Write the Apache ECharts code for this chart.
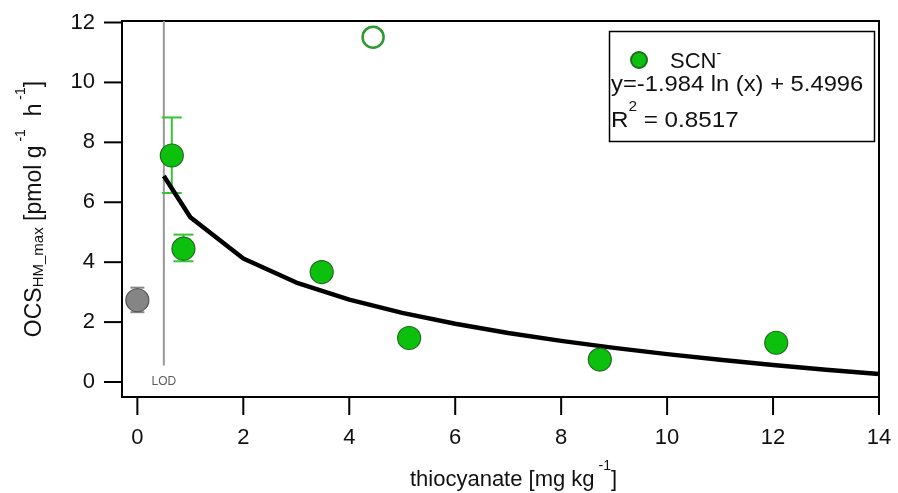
<!DOCTYPE html>
<html><head><meta charset="utf-8">
<script src="https://cdn.jsdelivr.net/npm/echarts@6/dist/echarts.min.js"></script>
<style>html,body{margin:0;padding:0;background:#fff}#c{width:898px;height:493px}</style>
</head><body><div id="c"></div>
<script>
// ---- data ----
const xTicks = [0, 2, 4, 6, 8, 10, 12, 14];
const yTicks = [0, 2, 4, 6, 8, 10, 12];
const scnX = [0.65, 0.87, 3.48, 5.13, 8.73, 12.06];
const scnY = [7.56, 4.45, 3.67, 1.47, 0.75, 1.31];
const scnErrLow = [6.31, 4.03, null, null, null, null];
const scnErrHigh = [8.83, 4.92, null, null, null, null];
const controlX = [0];
const controlY = [2.73];
const controlErrLow = [2.33];
const controlErrHigh = [3.15];
const outlierX = [4.45];
const outlierY = [11.51];
const fitX = [0.5, 1, 2, 3, 4, 5, 6, 7, 8, 9, 10, 11, 12, 13, 14];
const fitY = [6.875, 5.500, 4.124, 3.320, 2.749, 2.307, 1.945, 1.639, 1.374, 1.140, 0.931, 0.742, 0.570, 0.411, 0.264];
const lodX = 0.5;
const lodY = [0.55, 12.05];

const X_MIN = -0.29, X_MAX = 14, Y_MIN = -0.5, Y_MAX = 12.05;
const FONT = "'Liberation Sans', Arial, sans-serif";
const zip = (xs, ys) => xs.map((x, i) => [x, ys[i]]);
const errData = (xs, lo, hi) => xs.map((x, i) => [x, lo[i], hi[i]]).filter(d => d[1] != null);

function errRender(color, capW) {
  return function (params, api) {
    const x = api.value(0), lo = api.value(1), hi = api.value(2);
    const a = api.coord([x, lo]), b = api.coord([x, hi]);
    const st = { stroke: color, lineWidth: 2 };
    return { type: 'group', children: [
      { type: 'line', shape: { x1: a[0], y1: a[1], x2: b[0], y2: b[1] }, style: st },
      { type: 'line', shape: { x1: a[0] - capW / 2, y1: a[1], x2: a[0] + capW / 2, y2: a[1] }, style: st },
      { type: 'line', shape: { x1: b[0] - capW / 2, y1: b[1], x2: b[0] + capW / 2, y2: b[1] }, style: st }
    ]};
  };
}
// outward axis ticks: each item [x, y] sits on an axis; dx/dy give the outward direction
function tickRender(dx, dy) {
  return function (params, api) {
    const p = api.coord([api.value(0), api.value(1)]);
    return { type: 'line', shape: { x1: p[0], y1: p[1], x2: p[0] + dx, y2: p[1] + dy },
             style: { stroke: '#000', lineWidth: 2 } };
  };
}

const chart = echarts.init(document.getElementById('c'), null, { renderer: 'canvas' });
const mkRich = (fs) => ({
  n: { fontSize: fs, fontFamily: FONT, color: '#111', lineHeight: 32, verticalAlign: 'bottom' },
  s: { fontSize: 14, fontFamily: FONT, color: '#111', verticalAlign: 'top', lineHeight: 32 },
  b: { fontSize: 15, fontFamily: FONT, color: '#111', verticalAlign: 'bottom', lineHeight: 24 }
});
chart.setOption({
  animation: false,
  backgroundColor: '#fff',
  grid: { left: 122, right: 19, top: 21, bottom: 96, show: true, borderColor: '#000', borderWidth: 2,
          containLabel: false, outerBoundsMode: 'none' },
  xAxis: {
    type: 'value', min: X_MIN, max: X_MAX,
    name: '{n|thiocyanate [mg kg}{s| -1}{n|]}',
    nameLocation: 'middle', nameGap: 62,
    nameTextStyle: { rich: mkRich(22), padding: [0, 0, 0, 26] },
    axisLine: { show: true, onZero: false, lineStyle: { color: '#000', width: 2 } },
    axisTick: { show: false },
    axisLabel: { customValues: xTicks, margin: 30, fontSize: 22, fontFamily: FONT, color: '#111' },
    splitLine: { show: false }
  },
  yAxis: {
    type: 'value', min: Y_MIN, max: Y_MAX,
    name: '{n|OCS}{b|HM_max}{n| [pmol g}{s| -1}{n|  h}{s| -1}{n|]}',
    nameLocation: 'middle', nameGap: 76, nameRotate: 90,
    nameTextStyle: { rich: mkRich(23) },
    axisLine: { show: true, onZero: false, lineStyle: { color: '#000', width: 2 } },
    axisTick: { show: false },
    axisLabel: { customValues: yTicks, margin: 27, fontSize: 22, fontFamily: FONT, color: '#111' },
    splitLine: { show: false }
  },
  legend: {
    show: true, left: 630, top: 47, padding: 0, orient: 'vertical',
    data: [{ name: 'SCN-', icon: 'circle' }],
    itemWidth: 16, itemHeight: 16, itemGap: 5,
    formatter: () => '{m|SCN}{t|-}',
    textStyle: { padding: [0, 0, 0, 18], rich: {
      m: { fontSize: 22, fontFamily: FONT, color: '#111', verticalAlign: 'bottom', lineHeight: 26 },
      t: { fontSize: 14, fontFamily: FONT, color: '#111', verticalAlign: 'top', lineHeight: 26 }
    } }
  },
  graphic: [
    { id: 'box', type: 'rect', left: 607, top: 29, shape: { width: 265, height: 110 }, style: { fill: 'none', stroke: '#000', lineWidth: 1.5 }, z: 10 },
    { id: 'eq', type: 'text', left: 611, top: 74, z: 11, style: { text: 'y=-1.984 ln (x) + 5.4996', font: '22px ' + FONT, fill: '#111' }, scaleX: 1.08 },
    { id: 'r2', type: 'text', left: 611, top: 100, z: 11, style: { text: '{n|R}{s|2}{n| = 0.8517}', fill: '#111', rich: {
      n: { fontSize: 22, fontFamily: FONT, fill: '#111', verticalAlign: 'bottom', lineHeight: 32 },
      s: { fontSize: 14, fontFamily: FONT, fill: '#111', verticalAlign: 'top', lineHeight: 32 }
    } }, scaleX: 1.1 }
  ],
  series: [
    { type: 'custom', name: 'xticks', data: xTicks.map(v => [v, Y_MIN]), renderItem: tickRender(0, 18),
      clip: false, silent: true, z: 6 },
    { type: 'custom', name: 'yticks', data: yTicks.map(v => [X_MIN, v]), renderItem: tickRender(-18, 0),
      clip: false, silent: true, z: 6 },
    { type: 'line', name: 'LOD', data: [[lodX, lodY[0]], [lodX, lodY[1]]], symbol: 'none',
      lineStyle: { color: '#999', width: 2 }, z: 1, silent: true },
    { type: 'scatter', name: 'LODlabel', data: [[lodX, lodY[0]]], symbolSize: 0,
      label: { show: true, formatter: 'LOD', position: 'bottom', distance: 10, fontSize: 12, fontFamily: FONT, color: '#333' }, z: 1 },
    { type: 'line', name: 'fit', data: zip(fitX, fitY), symbol: 'none',
      lineStyle: { color: '#000', width: 4.5, join: 'round' }, z: 3 },
    { type: 'custom', name: 'errSCN', data: errData(scnX, scnErrLow, scnErrHigh),
      renderItem: errRender('#33c633', 20), z: 2 },
    { type: 'custom', name: 'errCtrl', data: errData(controlX, controlErrLow, controlErrHigh),
      renderItem: errRender('#888', 14), z: 2 },
    { type: 'scatter', name: 'control', data: zip(controlX, controlY), symbol: 'circle', symbolSize: 23,
      itemStyle: { color: '#858585', borderColor: '#555', borderWidth: 1.2, opacity: 1 }, z: 4 },
    { type: 'scatter', name: 'SCN-', data: zip(scnX, scnY), symbol: 'circle', symbolSize: 23,
      itemStyle: { color: '#0ec00e', borderColor: '#1f6b1f', borderWidth: 1.2, opacity: 1 }, z: 5 },
    { type: 'scatter', name: 'outlier', data: zip(outlierX, outlierY), symbol: 'circle', symbolSize: 21,
      itemStyle: { color: '#fff', borderColor: '#2e9a2e', borderWidth: 2.5, opacity: 1 }, z: 5 }
  ]
});
</script></body></html>
